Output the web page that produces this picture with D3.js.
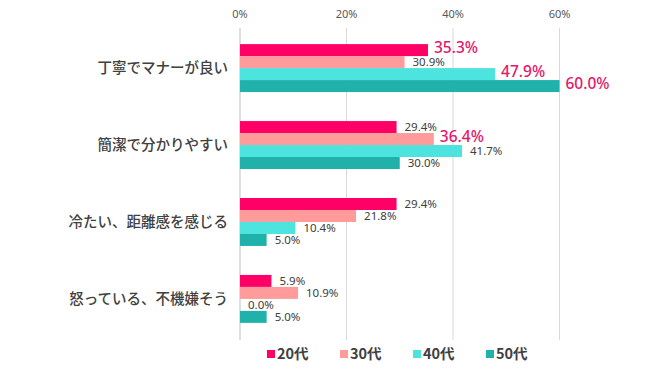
<!DOCTYPE html>
<html>
<head>
<meta charset="utf-8">
<script src="https://cdn.jsdelivr.net/npm/d3@7"></script>
<style>
  body { margin: 0; background: #fff; }
  text { font-family: "Noto Sans CJK JP", "Noto Sans", sans-serif; }
  .num { font-family: "Noto Sans", "Liberation Sans", sans-serif; }
</style>
</head>
<body>
<div id="chart"></div>
<script>
const categories = ["丁寧でマナーが良い", "簡潔で分かりやすい", "冷たい、距離感を感じる", "怒っている、不機嫌そう"];
const series = ["20代", "30代", "40代", "50代"];
const colors = ["#ff0066", "#ff9b9b", "#4de3de", "#20b2aa"];
const values = [
  [35.3, 30.9, 47.9, 60.0],
  [29.4, 36.4, 41.7, 30.0],
  [29.4, 21.8, 10.4, 5.0],
  [5.9, 10.9, 0.0, 5.0]
];
// highlighted labels (big pink)
const highlight = [
  [true, false, true, true],
  [false, true, false, false],
  [false, false, false, false],
  [false, false, false, false]
];
const ticks = [0, 20, 40, 60];

const width = 650, height = 382;
const svg = d3.select("#chart").append("svg")
  .attr("width", width)
  .attr("height", height);

const x = d3.scaleLinear().domain([0, 60]).range([240, 559.5]);

const y = d3.scaleBand()
  .domain(categories)
  .range([29.5, 337.5])
  .paddingInner(0.377)
  .paddingOuter(0.19);

const ySub = d3.scaleBand()
  .domain(series)
  .range([0, y.bandwidth()]);

// gridlines
ticks.forEach(t => {
  svg.append("line")
    .attr("x1", x(t)).attr("x2", x(t))
    .attr("y1", 28).attr("y2", 340)
    .attr("stroke", t === 0 ? "#bfbfbf" : "#d9d9d9")
    .attr("stroke-width", 1);
  svg.append("text")
    .attr("class", "num")
    .attr("x", x(t))
    .attr("y", 18)
    .attr("text-anchor", "middle")
    .attr("font-size", 11)
    .attr("fill", "#595959")
    .text(t + "%");
});

// category labels
categories.forEach(c => {
  svg.append("text")
    .attr("x", 228)
    .attr("y", y(c) + y.bandwidth() / 2)
    .attr("dy", "0.35em")
    .attr("text-anchor", "end")
    .attr("font-size", 14.5)
    .attr("font-weight", 500)
    .attr("fill", "#404040")
    .text(c);
});

// bars
categories.forEach((c, i) => {
  series.forEach((s, j) => {
    const v = values[i][j];
    const by = y(c) + ySub(s);
    svg.append("rect")
      .attr("x", x(0))
      .attr("y", by)
      .attr("width", x(v) - x(0))
      .attr("height", ySub.bandwidth())
      .attr("fill", colors[j]);
  });
});

// value labels on top of bars
categories.forEach((c, i) => {
  series.forEach((s, j) => {
    const v = values[i][j];
    const by = y(c) + ySub(s);
    const big = highlight[i][j];
    svg.append("text")
      .attr("class", "num")
      .attr("x", x(v) + (big ? 6 : 8))
      .attr("y", by + ySub.bandwidth() / 2 - (big ? 2.5 : 0))
      .attr("dy", "0.35em")
      .attr("font-size", big ? 15.5 : 11.5)
      .attr("font-weight", big ? 500 : 400)
      .attr("fill", big ? "#e5166b" : "#404040")
      .text(v.toFixed(1) + "%");
  });
});

// legend
const legendX = [267, 340, 413, 486];
series.forEach((s, j) => {
  svg.append("rect")
    .attr("x", legendX[j])
    .attr("y", 350)
    .attr("width", 8)
    .attr("height", 8)
    .attr("fill", colors[j]);
  svg.append("text")
    .attr("x", legendX[j] + 10)
    .attr("y", 354)
    .attr("dy", "0.35em")
    .attr("font-size", 14.5)
    .attr("font-weight", 700)
    .attr("fill", "#404040")
    .text(s);
});
</script>
</body>
</html>
